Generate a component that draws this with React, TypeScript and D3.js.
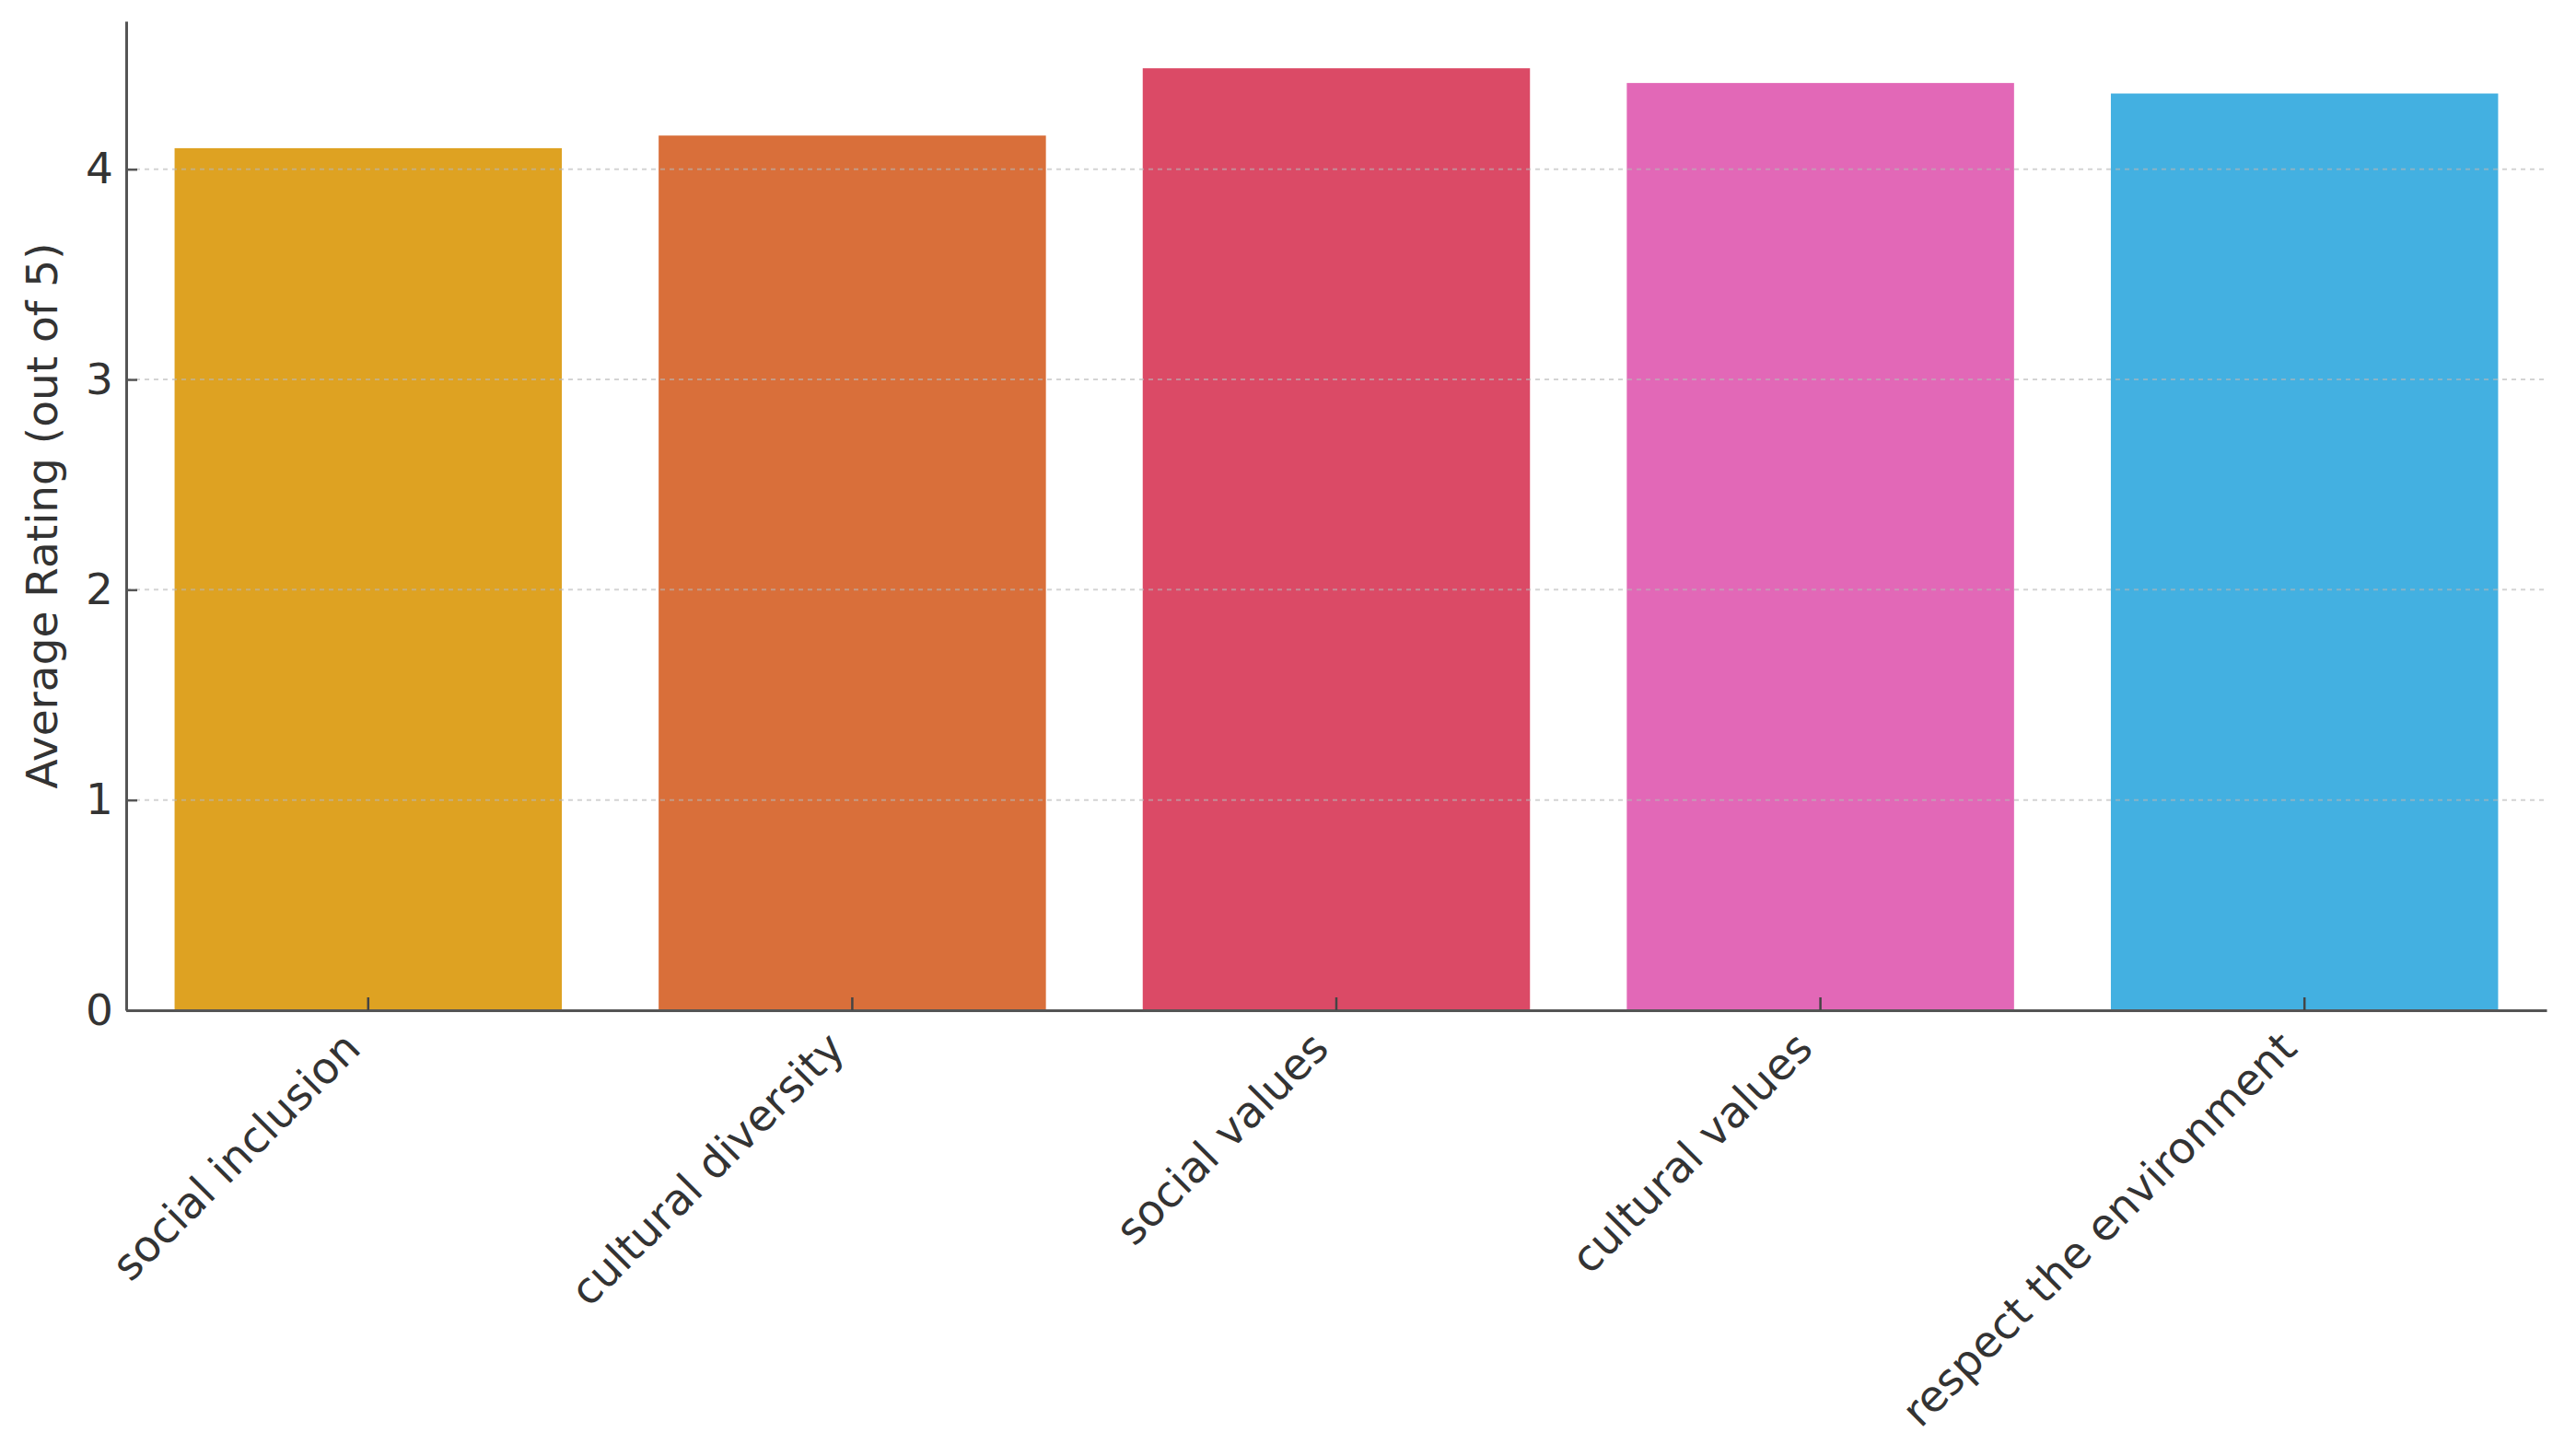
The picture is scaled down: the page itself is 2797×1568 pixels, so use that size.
import React, { useRef, useEffect } from 'react';
import * as d3 from 'd3';

// 数据
const categories = ['social inclusion', 'cultural diversity', 'social values', 'cultural values', 'respect the environment'];
const ratings = [4.10, 4.16, 4.48, 4.41, 4.36];
const colors = ['#DEA222', '#D96F3A', '#DB4A66', '#E268B7', '#43B0E1'];
const yTicks = [0, 1, 2, 3, 4];

const BarChart = () => {
    const ref = useRef<SVGSVGElement>(null);

    useEffect(() => {
        const svg = d3.select(ref.current);
        svg.selectAll('*').remove();
        const width = 2797;
        const height = 1568;
        const left = 137, right = 2765, top = 23, bottom = 1097;
        const font = 'DejaVu Sans, sans-serif';
        const fs = 47;

        svg.attr('width', width).attr('height', height);

        const x = d3.scaleBand<string>()
            .domain(categories)
            .range([left, right])
            .paddingInner(0.2)
            .paddingOuter(0.1);

        const y = d3.scaleLinear()
            .domain([0, (d3.max(ratings) as number) * 1.05])
            .range([bottom, top]);

        const rows = categories.map((c, i) => ({ name: c, value: ratings[i], color: colors[i] }));

        // 柱子
        svg.append('g')
            .selectAll('rect')
            .data(rows)
            .enter().append('rect')
            .attr('x', d => x(d.name) as number)
            .attr('y', d => y(d.value))
            .attr('width', x.bandwidth())
            .attr('height', d => bottom - y(d.value))
            .attr('fill', d => d.color);

        // 网格线 (画在柱子上面)
        svg.append('g')
            .selectAll('line')
            .data(yTicks.filter(t => t > 0))
            .enter().append('line')
            .attr('x1', left)
            .attr('x2', right)
            .attr('y1', d => y(d))
            .attr('y2', d => y(d))
            .attr('stroke', '#b8b8b8')
            .attr('stroke-opacity', 0.6)
            .attr('stroke-width', 2)
            .attr('stroke-dasharray', '5,5');

        // y 轴
        const yAxis = d3.axisLeft(y).tickValues(yTicks).tickFormat(d3.format('d')).tickSizeInner(-12).tickSizeOuter(0).tickPadding(14);
        const yg = svg.append('g').attr('transform', `translate(${left},0)`).call(yAxis);
        yg.select('.domain').attr('stroke', '#555').attr('stroke-width', 3);
        yg.selectAll('.tick line').attr('stroke', '#555').attr('stroke-width', 2.5);
        yg.selectAll('.tick text').attr('font-family', font).attr('font-size', fs).attr('fill', '#333');

        // x 轴
        const xAxis = d3.axisBottom(x).tickSizeInner(-14).tickSizeOuter(0).tickFormat(() => '');
        const xg = svg.append('g').attr('transform', `translate(0,${bottom})`).call(xAxis);
        xg.select('.domain').attr('stroke', '#555').attr('stroke-width', 3);
        xg.selectAll('.tick line').attr('stroke', '#444').attr('stroke-width', 2.5);

        // x 轴标签, 旋转45度
        svg.append('g')
            .selectAll('text')
            .data(categories)
            .enter().append('text')
            .attr('transform', d => `translate(${(x(d) as number) + x.bandwidth() / 2 - 6},${bottom + 44}) rotate(-45)`)
            .attr('text-anchor', 'end')
            .attr('font-family', font)
            .attr('font-size', fs)
            .attr('fill', '#333')
            .text(d => d);

        // y 轴标题
        svg.append('text')
            .attr('transform', `translate(62,560) rotate(-90)`)
            .attr('text-anchor', 'middle')
            .attr('font-family', font)
            .attr('font-size', fs)
            .attr('fill', '#333')
            .text('Average Rating (out of 5)');
    }, []);

    return <svg ref={ref} style={{ position: 'absolute', left: 0, top: 0, background: '#fff' }}></svg>;
};

export default function App() {
    return (
        <div>
            <BarChart />
        </div>
    );
}
